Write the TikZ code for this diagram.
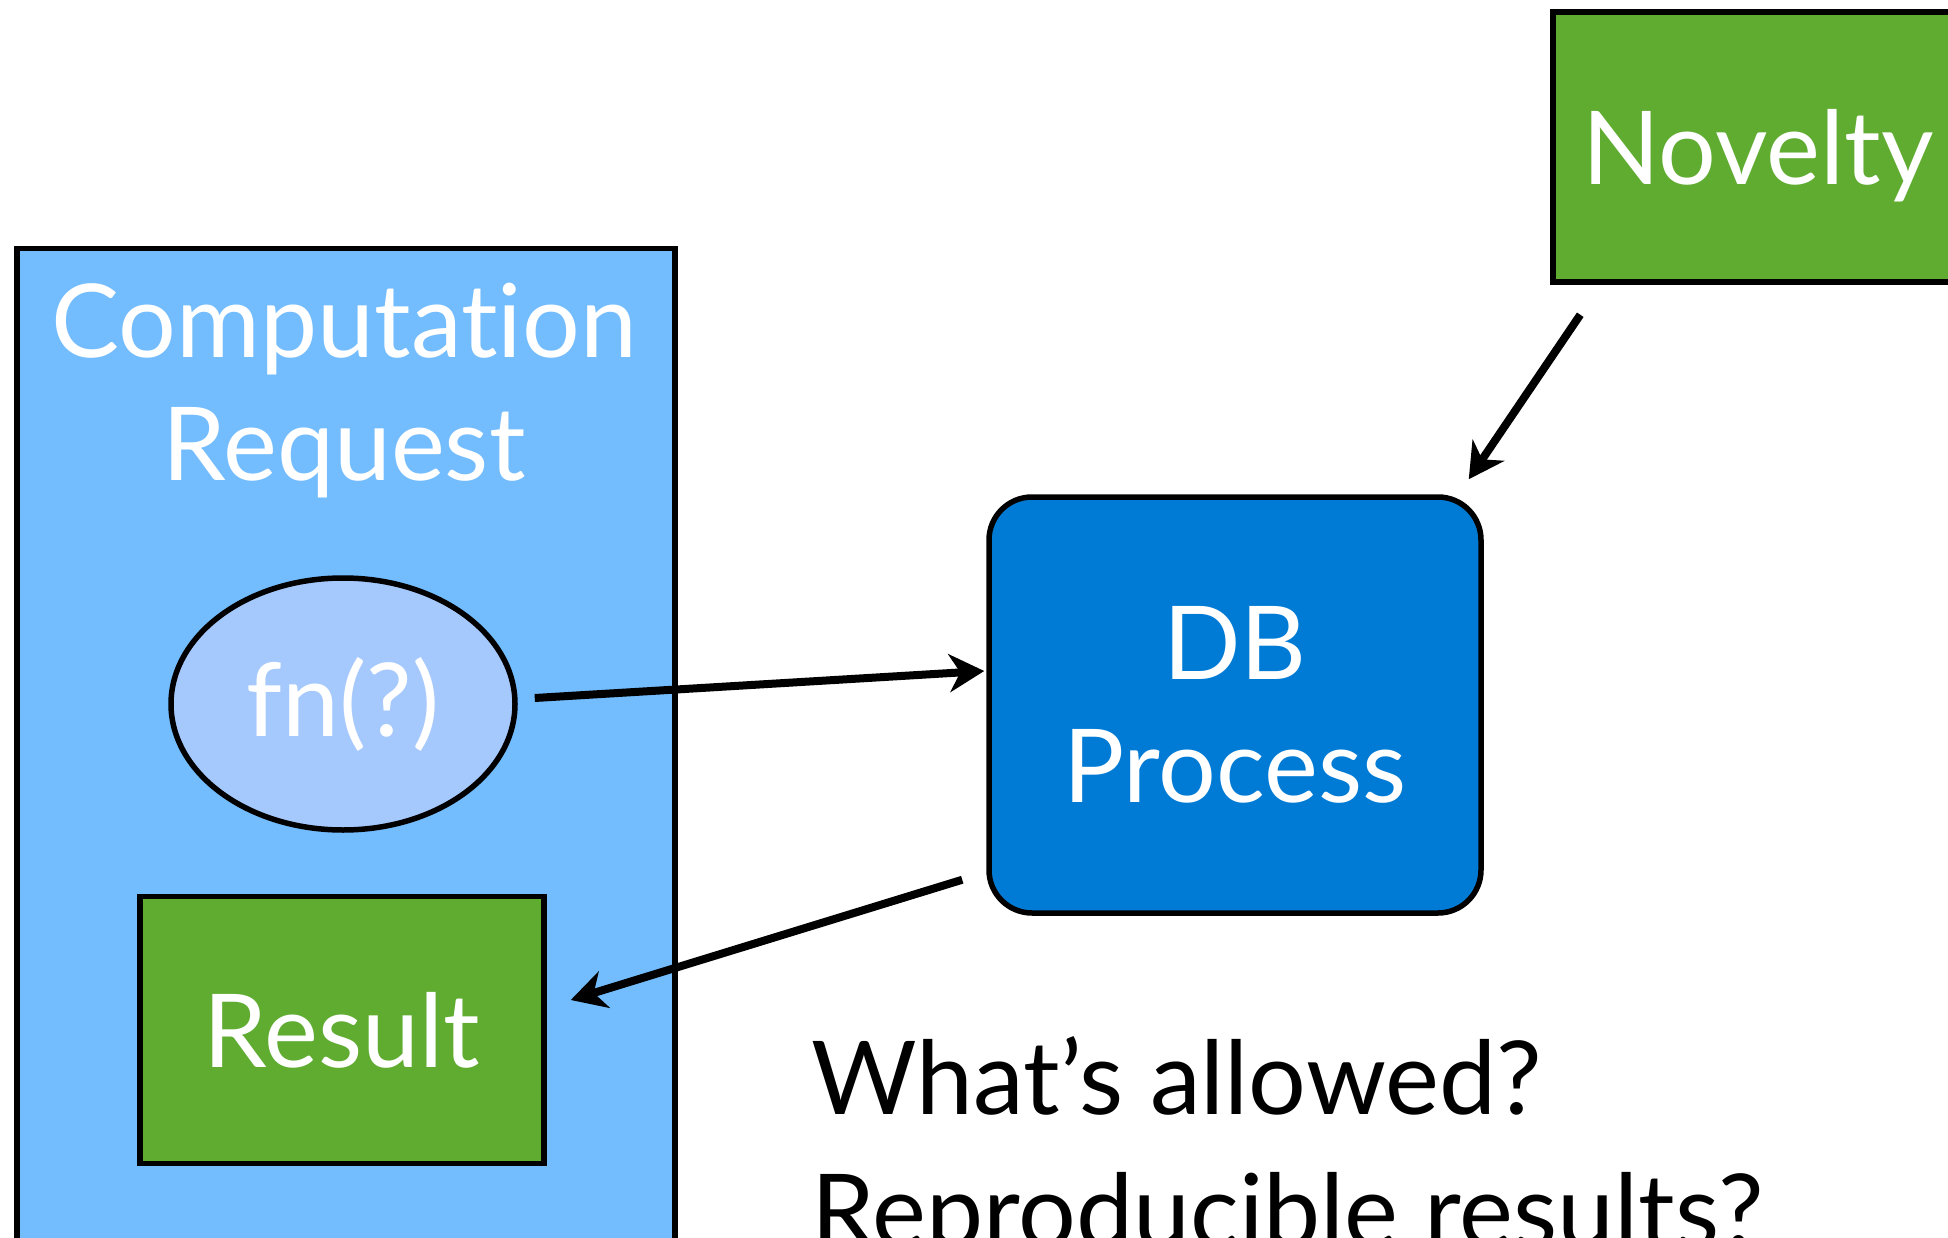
\documentclass[tikz,border=0pt]{standalone}
\usepackage{fontspec}
\setmainfont[Ligatures={NoCommon,NoContextual}]{Lato}
\usetikzlibrary{arrows.meta,shapes.geometric,calc}
\definecolor{boxgreen}{RGB}{95,172,49}
\definecolor{reqblue}{RGB}{115,188,253}
\definecolor{fnblue}{RGB}{166,201,253}
\definecolor{dbblue}{RGB}{0,123,213}
\begin{document}
\begin{tikzpicture}[x=1pt,y=-1pt,
  big/.style={font=\fontsize{102}{123}\selectfont},
  boxline/.style={draw=black, line width=5.5pt, inner sep=0pt},
  whitetext/.style={text=white},
  conn/.style={line width=8pt, -{Stealth[length=35pt,width=38pt,inset=11pt]}},
]
\useasboundingbox (0,0) rectangle (1948,1238);
\clip (0,0) rectangle (1948,1238);
\fill[white] (0,0) rectangle (1948,1238);

% request container, running off the bottom edge
\node[boxline, fill=reqblue, rectangle, minimum width=658pt, minimum height=1100pt, anchor=north west] (req) at (14,246) {};
\node[big, whitetext, align=center] (reqlabel) at (344,391) {Computation\\Request};

% function call and result inside the request
\node[boxline, fill=fnblue, ellipse, minimum width=344pt, minimum height=252pt, big, whitetext] (fn) at (343,704) {fn(?)};
\node[boxline, fill=boxgreen, rectangle, minimum width=404pt, minimum height=267pt, big, whitetext] (result) at (342,1030) {Result};

% database process
\node[boxline, fill=dbblue, rectangle, rounded corners=43pt, minimum width=492pt, minimum height=416pt, big, whitetext, align=center] (db) at (1235,705) {DB\\Process};

% novelty source, running off the right edge
\node[boxline, fill=boxgreen, rectangle, minimum width=410pt, minimum height=270pt, text depth=0pt, big, whitetext] (novelty) at (1758,147) {Novelty};

% open questions (anchored on the second line's baseline)
\node[font=\fontsize{102}{133}\selectfont, align=left, anchor=base west] (questions) at (808,1247) {What’s allowed?\\Reproducible results?};

% connectors
\draw[conn] ([xshift=17pt,yshift=6pt]fn.east) -- ([xshift=-2pt,yshift=34pt]db.west);
\draw[conn] ([xshift=-24pt,yshift=36pt]db.south west) -- ([xshift=24pt,yshift=30pt]result.east);
\draw[conn] ([xshift=30pt,yshift=-30pt]novelty.south west) -- ([xshift=-15pt,yshift=15pt]db.north east);
\end{tikzpicture}
\end{document}
